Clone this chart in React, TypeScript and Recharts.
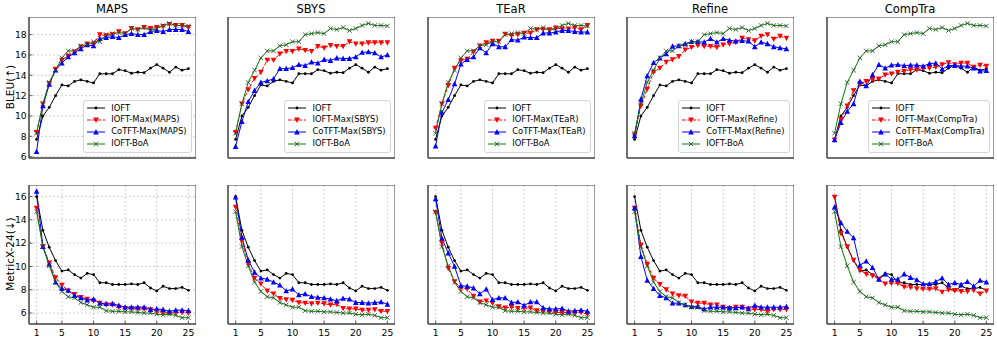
import React from 'react';
import { LineChart, Line, XAxis, YAxis, CartesianGrid, ReferenceArea, Legend } from 'recharts';

// ---------- data ----------
const steps = [1, 2, 3, 4, 5, 6, 7, 8, 9, 10, 11, 12, 13, 14, 15, 16, 17, 18, 19, 20, 21, 22, 23, 24, 25];
const xTicks = [1, 5, 10, 15, 20, 25];
const bleuTicks = [6, 8, 10, 12, 14, 16, 18];
const metricTicks = [6, 8, 10, 12, 14, 16];
const methods = ['MAPS', 'SBYS', 'TEaR', 'Refine', 'CompTra'];
const rowLabels = ['BLEU(↑)', 'MetricX-24(↓)'];

const ioftBleu = [7.7, 10.0, 10.85, 12.0, 13.05, 12.95, 13.4, 13.55, 13.4, 13.25, 14.15, 14.15, 14.15, 14.55, 14.45, 14.2, 14.3, 14.25, 14.7, 15.05, 14.7, 14.3, 14.8, 14.5, 14.65];
const boaBleu = [8.3, 11.2, 13.3, 14.5, 15.7, 16.4, 16.4, 16.9, 17.0, 17.3, 17.3, 18.0, 18.1, 18.2, 18.1, 18.6, 18.5, 18.7, 18.4, 18.6, 18.9, 19.1, 18.9, 18.9, 18.85];
const mapsMaxBleu = [8.4, 11.2, 13.2, 14.6, 15.5, 15.9, 16.3, 16.8, 17.1, 17.1, 18.0, 17.9, 18.0, 18.3, 18.1, 18.6, 18.5, 18.7, 18.6, 18.7, 18.8, 19.0, 18.9, 18.9, 18.7];
const mapsCoBleu = [6.5, 11.0, 13.1, 14.5, 15.2, 15.8, 16.2, 16.6, 17.0, 16.9, 17.6, 17.7, 17.8, 17.7, 18.0, 18.1, 18.0, 18.0, 18.3, 18.4, 18.3, 18.5, 18.5, 18.5, 18.3];
const sbysMaxBleu = [8.4, 11.2, 12.6, 13.7, 14.3, 15.5, 15.5, 16.1, 16.35, 16.35, 16.6, 16.45, 16.35, 16.85, 16.7, 16.95, 16.85, 16.85, 17.3, 17.1, 17.1, 17.2, 17.2, 17.2, 17.2];
const sbysCoBleu = [7.0, 9.45, 11.4, 12.5, 13.3, 13.45, 13.65, 14.65, 14.65, 14.75, 15.05, 14.95, 15.3, 15.2, 15.55, 15.45, 15.7, 15.65, 15.65, 15.8, 16.25, 16.3, 16.2, 15.8, 16.0];
const tearMaxBleu = [8.8, 11.2, 13.0, 14.7, 15.45, 15.6, 16.3, 16.9, 17.2, 17.35, 17.35, 18.05, 17.9, 18.0, 18.15, 18.15, 18.5, 18.5, 18.5, 18.65, 18.55, 18.55, 18.65, 18.5, 18.9];
const tearCoBleu = [7.05, 10.35, 11.6, 13.15, 15.1, 15.55, 15.8, 16.7, 16.2, 17.1, 16.8, 16.8, 17.5, 17.45, 17.75, 17.7, 17.7, 18.15, 18.15, 18.25, 18.4, 18.4, 18.3, 18.25, 18.25];
const refineMaxBleu = [8.15, 11.0, 12.65, 14.3, 14.7, 15.3, 15.55, 15.85, 16.5, 16.75, 16.95, 16.85, 16.85, 16.75, 17.0, 17.1, 17.25, 17.65, 17.5, 17.4, 17.85, 18.0, 17.55, 17.85, 17.65];
const refineCoBleu = [8.05, 11.65, 13.95, 15.25, 15.7, 16.1, 16.85, 16.9, 17.1, 17.3, 17.3, 17.25, 17.6, 17.25, 17.6, 17.45, 17.35, 17.4, 17.35, 16.8, 17.25, 17.1, 16.8, 16.7, 16.6];
const comptraMaxBleu = [7.65, 9.7, 11.0, 12.5, 13.15, 13.4, 13.6, 13.65, 14.05, 14.15, 14.3, 14.4, 14.55, 14.55, 14.65, 14.7, 14.8, 15.05, 15.25, 15.05, 15.2, 15.2, 14.8, 15.0, 14.9];
const comptraCoBleu = [7.65, 9.35, 10.45, 11.2, 13.4, 12.95, 14.05, 15.05, 14.7, 15.0, 15.05, 14.95, 15.0, 15.0, 14.9, 15.15, 15.2, 14.6, 14.95, 14.95, 14.9, 14.9, 14.7, 14.4, 14.45];

const ioftMetric = [16.0, 13.1, 11.65, 10.5, 9.6, 9.7, 9.3, 9.0, 9.4, 9.3, 8.6, 8.6, 8.45, 8.45, 8.45, 8.5, 8.45, 8.6, 8.15, 7.9, 8.3, 8.1, 8.1, 8.2, 7.95];
const boaMetric = [14.7, 11.7, 10.05, 8.65, 7.85, 7.4, 7.3, 6.9, 6.7, 6.5, 6.5, 6.2, 6.15, 6.15, 6.1, 6.1, 6.05, 6.0, 6.0, 5.9, 5.85, 5.9, 5.8, 5.6, 5.6];
const mapsMaxMetric = [15.0, 11.7, 10.3, 9.05, 8.4, 7.9, 7.6, 7.35, 7.2, 7.05, 6.85, 6.7, 6.7, 6.5, 6.4, 6.4, 6.35, 6.35, 6.3, 6.15, 6.05, 6.0, 6.05, 6.05, 6.0];
const mapsCoMetric = [16.45, 11.7, 10.2, 8.65, 8.1, 7.95, 7.5, 7.3, 7.1, 7.2, 6.85, 6.8, 6.8, 6.65, 6.5, 6.5, 6.5, 6.5, 6.3, 6.35, 6.3, 6.15, 6.25, 6.25, 6.2];
const sbysMaxMetric = [15.1, 12.2, 10.25, 9.0, 8.5, 7.9, 7.65, 7.25, 7.15, 7.1, 6.9, 6.85, 6.8, 6.85, 6.8, 6.7, 6.75, 6.4, 6.35, 6.35, 6.25, 6.25, 6.3, 6.15, 6.15];
const sbysCoMetric = [15.95, 12.5, 10.55, 9.5, 9.0, 8.9, 8.65, 8.4, 7.9, 8.05, 7.55, 7.65, 7.4, 7.35, 7.3, 7.2, 7.05, 7.25, 7.2, 6.9, 6.9, 6.85, 6.9, 6.95, 6.75];
const tearMaxMetric = [14.65, 12.0, 9.85, 8.7, 8.15, 8.05, 7.45, 6.95, 7.05, 6.85, 6.55, 6.45, 6.5, 6.4, 6.4, 6.45, 6.2, 6.15, 6.1, 6.05, 6.05, 6.05, 6.0, 6.05, 5.9];
const tearCoMetric = [15.8, 12.4, 11.15, 10.0, 8.35, 8.3, 8.15, 7.65, 8.05, 7.15, 7.3, 7.3, 6.9, 6.95, 6.65, 6.95, 6.95, 6.45, 6.35, 6.35, 6.4, 6.15, 6.2, 6.25, 6.15];
const refineMaxMetric = [15.0, 11.85, 10.2, 9.0, 8.45, 8.0, 7.65, 7.5, 7.45, 6.95, 6.85, 6.85, 6.7, 6.7, 6.5, 6.4, 6.5, 6.5, 6.35, 6.3, 6.3, 6.15, 6.3, 6.3, 6.3];
const refineCoMetric = [15.0, 10.85, 8.8, 8.1, 7.5, 7.3, 6.85, 6.85, 6.7, 6.55, 6.55, 6.35, 6.5, 6.5, 6.5, 6.45, 6.45, 6.5, 6.4, 6.65, 6.5, 6.5, 6.5, 6.5, 6.55];
const comptraMaxMetric = [15.95, 12.85, 11.7, 10.55, 9.7, 9.35, 9.2, 8.9, 8.5, 8.55, 8.55, 8.25, 8.2, 8.1, 8.05, 8.05, 8.1, 7.8, 8.0, 7.95, 7.85, 7.85, 7.95, 7.65, 7.9];
const comptraCoMetric = [15.1, 13.75, 13.0, 12.45, 10.1, 10.45, 9.9, 8.9, 9.35, 8.9, 8.9, 9.35, 9.05, 8.85, 8.5, 8.5, 8.7, 9.0, 8.45, 8.6, 8.45, 8.7, 8.3, 8.8, 8.65];

const maxBleuList = [mapsMaxBleu, sbysMaxBleu, tearMaxBleu, refineMaxBleu, comptraMaxBleu];
const coBleuList = [mapsCoBleu, sbysCoBleu, tearCoBleu, refineCoBleu, comptraCoBleu];
const maxMetricList = [mapsMaxMetric, sbysMaxMetric, tearMaxMetric, refineMaxMetric, comptraMaxMetric];
const coMetricList = [mapsCoMetric, sbysCoMetric, tearCoMetric, refineCoMetric, comptraCoMetric];

// ---------- styling ----------
const FONT = '"DejaVu Sans", "Liberation Sans", sans-serif';
const FRAME = '#444';
const BOX_W = 167;
const COL_LEFTS = [28.5, 227.5, 427.5, 626.5, 826.5];
const YAXIS_W = 28;
const XAXIS_H = 20;
const X_DOMAIN: [number, number] = [-0.2, 26.2];
const ROWS = [
  { top: 16.5, h: 141, domain: [5.87, 19.73] as [number, number], ticks: bleuTicks },
  { top: 184.5, h: 139, domain: [5.06, 16.99] as [number, number], ticks: metricTicks },
];

const SERIES = [
  { key: 'ioft', color: '#000000', dash: undefined as string | undefined, marker: 'dot' },
  { key: 'max', color: '#ff0000', dash: '3.7 1.6', marker: 'tdown' },
  { key: 'co', color: '#0000ff', dash: undefined, marker: 'tup' },
  { key: 'boa', color: '#008000', dash: undefined, marker: 'x' },
];

function Marker({ type, cx, cy, color }: { type: string; cx: number; cy: number; color: string }) {
  if (cx == null || cy == null || isNaN(cx) || isNaN(cy)) return null;
  if (type === 'dot') return <circle cx={cx} cy={cy} r={1.4} fill={color} />;
  if (type === 'tdown') {
    const s = 2.8;
    return <polygon points={`${cx - s},${cy - s * 0.85} ${cx + s},${cy - s * 0.85} ${cx},${cy + s * 1.05}`} fill={color} />;
  }
  if (type === 'tup') {
    const s = 2.8;
    return <polygon points={`${cx - s},${cy + s * 0.85} ${cx + s},${cy + s * 0.85} ${cx},${cy - s * 1.05}`} fill={color} />;
  }
  const d = 2.2;
  return (
    <g stroke="#2f4f2f" strokeWidth={0.9}>
      <line x1={cx - d} y1={cy - d} x2={cx + d} y2={cy + d} />
      <line x1={cx - d} y1={cy + d} x2={cx + d} y2={cy - d} />
    </g>
  );
}

function LegendBox(props: any) {
  const order = SERIES.map((s) => s.key);
  const payload = [...(props.payload || [])].sort(
    (a: any, b: any) => order.indexOf(a.dataKey) - order.indexOf(b.dataKey)
  );
  return (
    <div
      style={{
        background: 'rgba(255,255,255,0.85)',
        border: '1px solid #d4d4d4',
        borderRadius: 3,
        padding: '2px 4px 2px 3px',
        fontFamily: FONT,
        fontSize: 8.4,
        color: '#000',
      }}
    >
      {payload.map((entry: any) => {
        const s = SERIES.find((q) => q.key === entry.dataKey)!;
        return (
          <div key={entry.dataKey} style={{ display: 'flex', alignItems: 'center', height: 11.8, whiteSpace: 'nowrap' }}>
            <svg width={18} height={8} style={{ marginRight: 6, overflow: 'visible' }}>
              <line x1={0} x2={18} y1={4} y2={4} stroke={s.color} strokeWidth={1} strokeDasharray={s.dash} />
              <Marker type={s.marker} cx={9} cy={4} color={s.color} />
            </svg>
            <span style={{ lineHeight: '11.8px' }}>{entry.value}</span>
          </div>
        );
      })}
    </div>
  );
}

function Panel({ row, col }: { row: number; col: number }) {
  const r = ROWS[row];
  const method = methods[col];
  const ioft = row === 0 ? ioftBleu : ioftMetric;
  const boa = row === 0 ? boaBleu : boaMetric;
  const mx = row === 0 ? maxBleuList[col] : maxMetricList[col];
  const co = row === 0 ? coBleuList[col] : coMetricList[col];
  const data = steps.map((step, i) => ({ step, ioft: ioft[i], max: mx[i], co: co[i], boa: boa[i] }));
  const names: Record<string, string> = {
    ioft: 'IOFT',
    max: `IOFT-Max(${method})`,
    co: `CoTFT-Max(${method})`,
    boa: 'IOFT-BoA',
  };
  const boxLeft = COL_LEFTS[col];
  const W = YAXIS_W + BOX_W;
  const H = r.h + XAXIS_H;
  const tickStyle = { fill: '#000', fontSize: 9.2, fontFamily: FONT };
  return (
    <div style={{ position: 'absolute', left: boxLeft - YAXIS_W, top: r.top, width: W, height: H }}>
      <LineChart width={W} height={H} data={data} margin={{ top: 0, right: 0, bottom: 0, left: 0 }}>
        <CartesianGrid stroke="#c4c4c4" strokeDasharray="2 2" strokeWidth={0.8} />
        <XAxis
          dataKey="step"
          type="number"
          domain={X_DOMAIN}
          ticks={xTicks}
          allowDataOverflow
          interval={0}
          height={XAXIS_H}
          axisLine={{ stroke: FRAME, strokeWidth: 1 }}
          tickSize={-3.5}
          tickMargin={9}
          tickLine={{ stroke: FRAME, strokeWidth: 0.8 }}
          tick={row === 1 ? tickStyle : false}
        />
        <YAxis
          type="number"
          domain={r.domain}
          ticks={r.ticks}
          allowDataOverflow
          interval={0}
          width={YAXIS_W}
          axisLine={{ stroke: FRAME, strokeWidth: 1 }}
          tickSize={-3.5}
          tickMargin={5.8}
          tickLine={{ stroke: FRAME, strokeWidth: 0.8 }}
          tick={col === 0 ? tickStyle : false}
        />
        {SERIES.map((s) => (
          <Line
            key={s.key}
            dataKey={s.key}
            name={names[s.key]}
            type="linear"
            stroke={s.color}
            strokeWidth={1}
            strokeDasharray={s.dash}
            isAnimationActive={false}
            activeDot={false}
            dot={(p: any) => <Marker key={`${s.key}-${p.index}`} type={s.marker} cx={p.cx} cy={p.cy} color={s.color} />}
          />
        ))}
        <ReferenceArea
          x1={X_DOMAIN[0]}
          x2={X_DOMAIN[1]}
          y1={r.domain[0]}
          y2={r.domain[1]}
          fill="none"
          fillOpacity={0}
          stroke={FRAME}
          strokeWidth={1}
          ifOverflow="visible"
        />
        {row === 0 && (
          <Legend
            layout="vertical"
            align="center"
            verticalAlign="middle"
            content={<LegendBox />}
            wrapperStyle={{ left: 'auto', right: 4, top: 83, width: 'auto' }}
          />
        )}
      </LineChart>
    </div>
  );
}

export default function App() {
  return (
    <div
      style={{
        position: 'absolute',
        left: 0,
        top: 0,
        width: 997,
        height: 339,
        background: '#fff',
        fontFamily: FONT,
        overflow: 'hidden',
      }}
    >
      {methods.map((m, col) => (
        <div
          key={`t-${m}`}
          style={{
            position: 'absolute',
            left: COL_LEFTS[col],
            width: BOX_W,
            top: 2,
            height: 15,
            lineHeight: '15px',
            textAlign: 'center',
            fontSize: 11.5,
            color: '#000',
          }}
        >
          {m}
        </div>
      ))}
      {rowLabels.map((lab, row) => {
        const cy = ROWS[row].top + ROWS[row].h / 2;
        return (
          <div
            key={`y-${row}`}
            style={{
              position: 'absolute',
              left: 9.5 - 70,
              top: cy - 7,
              width: 140,
              height: 14,
              lineHeight: '14px',
              textAlign: 'center',
              fontSize: 10.5,
              color: '#000',
              transform: 'rotate(-90deg)',
            }}
          >
            {lab}
          </div>
        );
      })}
      {[0, 1].map((row) => methods.map((m, col) => <Panel key={`${row}-${col}`} row={row} col={col} />))}
    </div>
  );
}
